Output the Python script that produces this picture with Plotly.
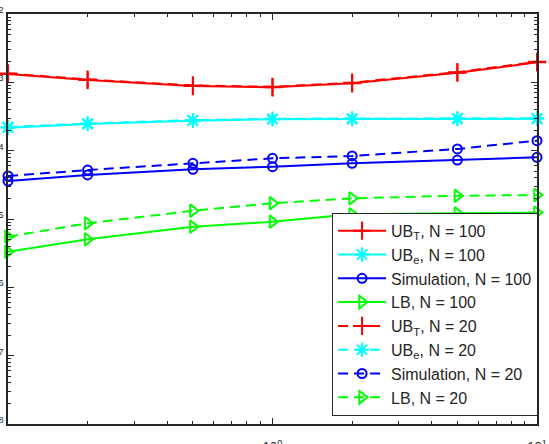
import plotly.graph_objects as go

snr = [0.1, 0.2, 0.5, 1, 2, 5, 10]

ubt_100 = [1.32e-3, 1.08e-3, 8.83e-4, 8.45e-4, 9.68e-4, 1.38e-3, 1.96e-3]
ube_100 = [2.17e-4, 2.45e-4, 2.74e-4, 2.88e-4, 2.90e-4, 2.91e-4, 2.92e-4]
sim_100 = [3.60e-5, 4.41e-5, 5.33e-5, 5.82e-5, 6.53e-5, 7.29e-5, 8.00e-5]
lb_100 = [3.32e-6, 5.05e-6, 7.71e-6, 9.12e-6, 1.17e-5, 1.21e-5, 1.24e-5]

ubt_20 = [1.35e-3, 1.10e-3, 9.00e-4, 8.60e-4, 9.90e-4, 1.41e-3, 2.00e-3]
ube_20 = [2.22e-4, 2.50e-4, 2.80e-4, 2.93e-4, 2.96e-4, 2.97e-4, 2.98e-4]
sim_20 = [4.26e-5, 5.21e-5, 6.53e-5, 7.73e-5, 8.36e-5, 1.06e-4, 1.40e-4]
lb_20 = [5.51e-6, 8.65e-6, 1.32e-5, 1.70e-5, 2.01e-5, 2.19e-5, 2.24e-5]

x_ticks = [0.1, 1, 10]
x_ticktext = ["10<sup>-1</sup>", "10<sup>0</sup>", "10<sup>1</sup>"]
y_ticks = [1e-8, 1e-7, 1e-6, 1e-5, 1e-4, 1e-3, 1e-2]
y_ticktext = ["10<sup>-8</sup>", "10<sup>-7</sup>", "10<sup>-6</sup>", "10<sup>-5</sup>",
              "10<sup>-4</sup>", "10<sup>-3</sup>", "10<sup>-2</sup>"]

names = [
    "UB<sub>T</sub>, N = 100", "UB<sub>e</sub>, N = 100", "Simulation, N = 100", "LB, N = 100",
    "UB<sub>T</sub>, N = 20", "UB<sub>e</sub>, N = 20", "Simulation, N = 20", "LB, N = 20",
]
series = [ubt_100, ube_100, sim_100, lb_100, ubt_20, ube_20, sim_20, lb_20]
colors = ["#FF0000", "#00FFFF", "#0000FF", "#00FF00"] * 2
symbols = ["cross-thin", "asterisk-open", "circle-open", "triangle-right-open"] * 2
sizes = [13, 12, 9, 11] * 2
dashes = ["solid"] * 4 + ["10px,6px"] * 4


def minor_vals(lo, hi):
    vals = []
    for e in range(lo, hi):
        for m in range(2, 10):
            vals.append(m * 10.0 ** e)
    return vals


fig = go.Figure()
for i, (nm, ys) in enumerate(zip(names, series)):
    fig.add_trace(go.Scatter(
        x=snr, y=ys, name=nm, mode="lines+markers",
        legendgroup=str(i), cliponaxis=False,
        line=dict(color=colors[i], width=2, dash=dashes[i]),
        marker=dict(symbol=symbols[i], size=sizes[i], color=colors[i],
                    line=dict(color=colors[i], width=2)),
    ))

# empty helper trace so the minor-tick overlay axes are drawn
fig.add_trace(go.Scatter(x=[], y=[], xaxis="x2", yaxis="y2", showlegend=False,
                         hoverinfo="skip"))

axis_col = "#262626"
common = dict(
    type="log", showgrid=False, zeroline=False, showline=True, linecolor=axis_col,
    linewidth=1.5, mirror="allticks", ticks="inside", ticklen=6, tickcolor=axis_col,
    automargin=False,
    tickfont=dict(family="Liberation Sans, Arial", size=13, color=axis_col),
)
minor_common = dict(
    type="log", showgrid=False, zeroline=False, showline=False, mirror="ticks",
    ticks="inside", ticklen=3, tickcolor=axis_col, tickwidth=1,
    showticklabels=False, automargin=False,
)
fig.update_layout(
    xaxis=dict(range=[-1, 1], tickvals=x_ticks, ticktext=x_ticktext,
               ticklabelstandoff=10, **common),
    yaxis=dict(range=[-8, -2], tickvals=y_ticks, ticktext=y_ticktext, **common),
    xaxis2=dict(range=[-1, 1], tickvals=minor_vals(-1, 1), overlaying="x",
                anchor="y2", side="bottom", **minor_common),
    yaxis2=dict(range=[-8, -2], tickvals=minor_vals(-8, -2), overlaying="y",
                anchor="x2", side="left", **minor_common),
)

fig.update_layout(
    width=549, height=444,
    margin=dict(l=8, r=12, t=14, b=20),
    paper_bgcolor="white", plot_bgcolor="white",
    font=dict(family="Liberation Sans, Arial", color="#262626"),
    legend=dict(
        x=1.002, y=0.02, xanchor="right", yanchor="bottom",
        bgcolor="white", bordercolor="#262626", borderwidth=1,
        font=dict(family="Liberation Sans, Arial", size=16, color="#262626"),
        tracegroupgap=0, itemwidth=48,
    ),
    showlegend=True,
)

fig.write_html("out.html")
